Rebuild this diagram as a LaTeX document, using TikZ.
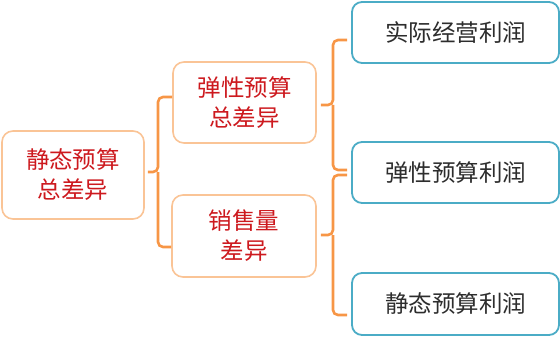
\documentclass[tikz,border=0pt]{standalone}
\usepackage{fontspec}
\newfontfamily\cjk{Noto Sans CJK SC}
\definecolor{bracecol}{RGB}{247,150,70}
\definecolor{peach}{RGB}{250,196,150}
\definecolor{aqua}{RGB}{75,172,198}
\definecolor{redtxt}{RGB}{205,25,30}
\definecolor{graytxt}{RGB}{45,45,45}
\tikzset{
  warmbox/.style={draw=peach, line width=1.6pt, rounded corners=11pt, fill=white,
    inner sep=0pt, align=center, text=redtxt, font=\cjk\fontsize{23.5}{30}\selectfont},
  coolbox/.style={draw=aqua, line width=1.8pt, rounded corners=10pt, fill=white,
    inner sep=0pt, align=center, text=graytxt, font=\cjk\fontsize{23.5}{30}\selectfont,
    minimum width=207pt, minimum height=61pt},
  brace/.style={draw=bracecol, line width=2.6pt, rounded corners=5pt}
}
\begin{document}
\begin{tikzpicture}[x=1pt,y=-1pt]
\useasboundingbox (0,0) rectangle (560,337);
% nodes
\node[warmbox, minimum width=142pt, minimum height=88pt] (l) at (73,175) {静态预算\\总差异};
\node[warmbox, minimum width=143pt, minimum height=81pt] (mt) at (244.5,102.5) {弹性预算\\总差异};
\node[warmbox, minimum width=144pt, minimum height=82pt] (mb) at (244,236) {销售量\\差异};
\node[coolbox] (r1) at (455.5,32.5) {实际经营利润};
\node[coolbox] (r2) at (455.5,172.5) {弹性预算利润};
\node[coolbox, minimum height=62pt] (r3) at (455.5,304) {静态预算利润};
% brace from left box to middle boxes
\coordinate (ja) at (158,172);
\draw[brace] ([yshift=5.5pt]mt.west) -| (ja) -- ([xshift=3pt,yshift=3pt]l.east);
\draw[brace] ([yshift=-11pt]mb.west) -| (ja);
% brace from middle top to r1, r2
\coordinate (jb) at (333,105);
\draw[brace] ([xshift=-4pt,yshift=-7.5pt]r1.west) -| (jb) -- ([xshift=4pt,yshift=-2.5pt]mt.east);
\draw[brace] ([xshift=-4pt,yshift=2.5pt]r2.west) -| (jb);
% brace from middle bottom to r2, r3
\coordinate (jc) at (333,235);
\draw[brace] ([xshift=-4pt,yshift=-2.5pt]r2.west) -| (jc) -- ([xshift=4pt,yshift=1pt]mb.east);
\draw[brace] ([xshift=-4pt,yshift=-11pt]r3.west) -| (jc);
\end{tikzpicture}
\end{document}
